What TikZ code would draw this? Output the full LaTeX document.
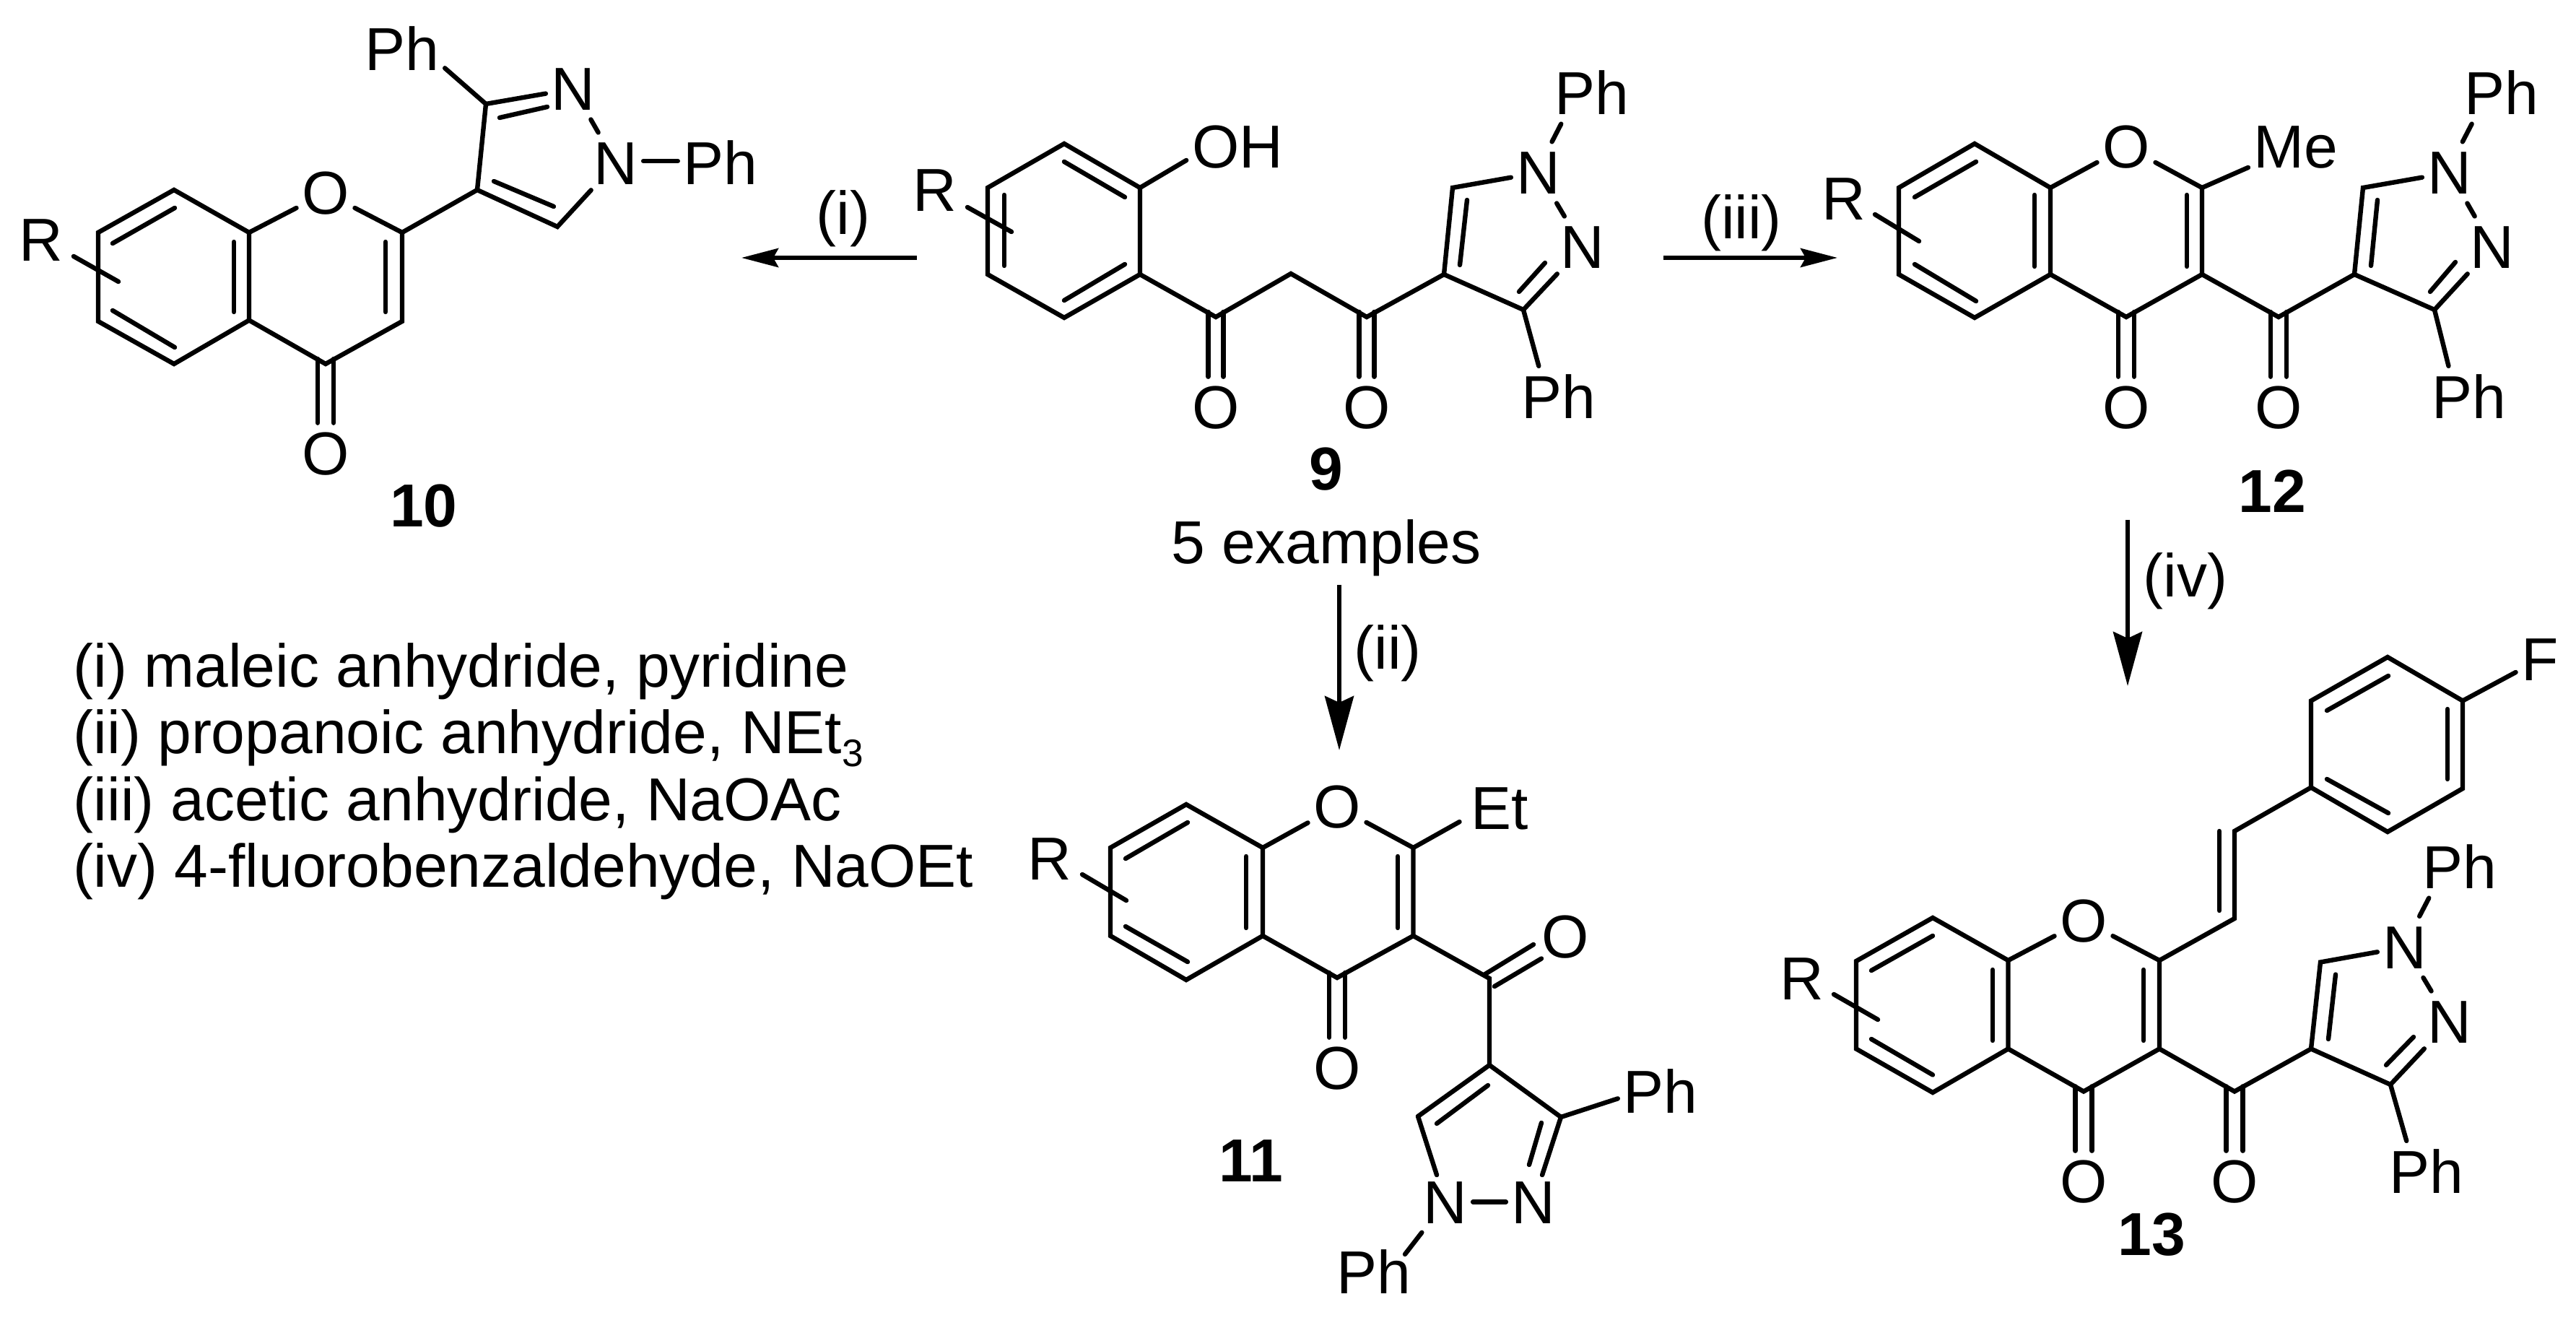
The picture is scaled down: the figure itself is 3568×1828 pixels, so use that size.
\documentclass[tikz,border=0pt]{standalone}
\usepackage{fontspec}
\setmainfont{Liberation Sans}
\usetikzlibrary{calc,arrows.meta}
\newcommand{\chemfs}{\fontsize{21}{24}\selectfont}
\newcommand{\carbonyl}[3]{%
  \draw[bond] ($(#1)+(-#3,-7)$) -- ($(#2.north)+(-#3,-5)$);
  \draw[bond] ($(#1)+(#3,-7)$) -- ($(#2.north)+(#3,-5)$);}
\tikzset{
  bond/.style={line width=1.6pt,line cap=round,line join=miter,draw=black},
  nn/.style={bond,shorten >=1.5pt,shorten <=1.5pt},
  toph/.style={bond,shorten >=1.5pt},
  atom/.style={font=\chemfs,inner sep=1.75pt,text height=14.75pt,text depth=0pt,anchor=center},
  cmpd/.style={font=\chemfs\bfseries,inner sep=0pt,anchor=base},
  txt/.style={font=\chemfs,inner sep=0pt,anchor=base},
  reagent/.style={font=\chemfs,inner sep=0pt,anchor=base west},
  harrow/.style={line width=1.5pt,-{Stealth[length=12.75pt,width=6.5pt,inset=1.75pt]}},
  varrow/.style={line width=1.5pt,-{Stealth[length=18.75pt,width=10pt,inset=2.25pt]}},
}
\begin{document}
\begin{tikzpicture}[x=0.25pt,y=-0.25pt]
\useasboundingbox (0,0) rectangle (3568,1828);
\fill[white] (0,0) rectangle (3568,1828);

% ---------- compound 10
\coordinate (a1) at (241,263);
\coordinate (a2) at (136,322);
\coordinate (a3) at (136,445);
\coordinate (a4) at (241,504);
\coordinate (a5) at (345,443.5);
\coordinate (a6) at (345,322);
\coordinate (a7) at (557,322);
\coordinate (a8) at (557,445);
\coordinate (a9) at (451,504);
\coordinate (a10) at (661,263);
\coordinate (a11) at (772,314);
\coordinate (a12) at (673,144);
\coordinate (aRa) at (102,355);
\coordinate (aRb) at (164,390);
\node[atom] (aR) at (57,332) {R};
\node[atom] (aO) at (451,267) {O};
\node[atom] (aOc) at (451,628) {O};
\node[atom] (aN2) at (794,123) {N};
\node[atom] (aN1) at (853,226) {N};
\node[atom] (aPh1) at (557,68) {Ph};
\node[atom] (aPh2) at (998,226) {Ph};
\node[cmpd] (aL) at (587,730) {10};
\carbonyl{a9}{aOc}{11}
\draw[bond] (a1)--(a2)--(a3)--(a4)--(a5)--(a6)--cycle;
\draw[bond] (a5)--(a9)--(a8)--(a7);
\draw[bond] (a6)--(aO);
\draw[bond] (aO)--(a7);
\draw[bond] (a7)--(a10)--(a11)--(aN1);
\draw[bond] (a10)--(a12)--(aN2);
\draw[bond] (a12)--(aPh1.-24);
\draw[nn] (aN2)--(aN1);
\draw[bond] ($(aN1.east)+(0,-3)$)--($(aPh2.west)+(0,-3)$);
\draw[bond] (aRa)--(aRb);
\draw[bond] (156,337)--(242,288);
\draw[bond] (156,430)--(242,481);
\draw[bond] (324,335)--(324,432);
\draw[bond] (534,335)--(534,432);
\draw[bond] (692,163)--(758,148);
\draw[bond] (684,251)--(767,286);

% ---------- compound 9
\coordinate (b1) at (1474,199);
\coordinate (b2) at (1579,260);
\coordinate (b3) at (1579,380);
\coordinate (b4) at (1474,440);
\coordinate (b5) at (1368,380);
\coordinate (b6) at (1368,260);
\coordinate (b7) at (1684,439);
\coordinate (b8) at (1788,379);
\coordinate (b9) at (1893,439);
\coordinate (b10) at (2000,380);
\coordinate (b11) at (2012,260);
\coordinate (b12) at (2110,429);
\coordinate (bRa) at (1340,287);
\coordinate (bRb) at (1401,321);
\node[atom] (bR) at (1295,263) {R};
\node[atom] (bOH) at (1714,203) {OH};
\node[atom] (bO1) at (1684,564) {O};
\node[atom] (bO2) at (1893,564) {O};
\node[atom] (bN1) at (2131,239) {N};
\node[atom] (bN2) at (2192,342) {N};
\node[atom] (bPh1) at (2205,129) {Ph};
\node[atom] (bPh2) at (2159,550) {Ph};
\node[cmpd] (bL) at (1837,679) {9};
\node[txt] (bE) at (1837,781) {5 examples};
\carbonyl{b7}{bO1}{10.5}
\carbonyl{b9}{bO2}{10.5}
\draw[bond] (b1)--(b2)--(b3)--(b4)--(b5)--(b6)--cycle;
\draw[bond] (b3)--(b7)--(b8)--(b9)--(b10)--(b11)--(bN1);
\draw[bond] (b10)--(b12)--(bN2);
\draw[bond] (b2)--(bOH.195);
\draw[nn] (bN1)--(bN2);
\draw[nn] (bN1.67)--(bPh1.223);
\draw[toph] (b12)--(bPh2.125);
\draw[bond] (bRa)--(bRb);
\draw[bond] (1474,224)--(1558,273);
\draw[bond] (1474,416)--(1558,366);
\draw[bond] (1391,270)--(1391,368);
\draw[bond] (2032,277)--(2022,367);
\draw[bond] (2140,364)--(2104,404);

% ---------- compound 12
\coordinate (c1) at (2735,199);
\coordinate (c2) at (2630,260);
\coordinate (c3) at (2630,380);
\coordinate (c4) at (2735,440);
\coordinate (c5) at (2840,380);
\coordinate (c6) at (2840,260);
\coordinate (c7) at (3050,260);
\coordinate (c8) at (3050,380);
\coordinate (c9) at (2945,439);
\coordinate (c10) at (3156,439);
\coordinate (c11) at (3261,380);
\coordinate (c12) at (3273,260);
\coordinate (c13) at (3372,429);
\coordinate (cRa) at (2597,297);
\coordinate (cRb) at (2658,334);
\node[atom] (cR) at (2554,275) {R};
\node[atom] (cO) at (2945,203) {O};
\node[atom] (cMe) at (3180,203) {Me};
\node[atom] (cO1) at (2945,564) {O};
\node[atom] (cO2) at (3156,564) {O};
\node[atom] (cN1) at (3393,239) {N};
\node[atom] (cN2) at (3452,342) {N};
\node[atom] (cPh1) at (3465,129) {Ph};
\node[atom] (cPh2) at (3420,550) {Ph};
\node[cmpd] (cL) at (3147,710) {12};
\carbonyl{c9}{cO1}{11}
\carbonyl{c10}{cO2}{11}
\draw[bond] (c1)--(c2)--(c3)--(c4)--(c5)--(c6)--cycle;
\draw[bond] (c5)--(c9)--(c8)--(c7);
\draw[bond] (c6)--(cO);
\draw[bond] (cO)--(c7);
\draw[bond] (c7)--(cMe);
\draw[bond] (c8)--(c10)--(c11)--(c12)--(cN1);
\draw[bond] (c11)--(c13)--(cN2);
\draw[nn] (cN1)--(cN2);
\draw[nn] (cN1.68)--(cPh1.224);
\draw[toph] (c13)--(cPh2.126);
\draw[bond] (cRa)--(cRb);
\draw[bond] (2652,273)--(2737,224);
\draw[bond] (2652,366)--(2737,417);
\draw[bond] (2818,270)--(2818,369);
\draw[bond] (3029,270)--(3029,369);
\draw[bond] (3293,277)--(3284,368);
\draw[bond] (3401,363)--(3366,404);

% ---------- compound 11
\coordinate (d1) at (1643,1114);
\coordinate (d2) at (1538,1174);
\coordinate (d3) at (1538,1296);
\coordinate (d4) at (1643,1357);
\coordinate (d5) at (1749,1296);
\coordinate (d6) at (1749,1174);
\coordinate (d7) at (1957.5,1174);
\coordinate (d8) at (1957.5,1296);
\coordinate (d9) at (1852,1354);
\coordinate (d10) at (2063,1355);
\coordinate (d11) at (2063,1475);
\coordinate (d12) at (1964,1546);
\coordinate (d13) at (2162,1547);
\coordinate (dRa) at (1499,1211);
\coordinate (dRb) at (1560,1247);
\node[atom] (dR) at (1454,1189) {R};
\node[atom] (dO) at (1852,1117) {O};
\node[atom,inner xsep=3.75pt] (dEt) at (2077,1119) {Et};
\node[atom] (dO1) at (1852,1479) {O};
\node[atom] (dO2) at (2168.5,1297) {O};
\node[atom] (dN1) at (2002,1664.5) {N};
\node[atom] (dN2) at (2124,1664.5) {N};
\node[atom] (dPh1) at (2300,1512) {Ph};
\node[atom] (dPh2) at (1902.5,1762) {Ph};
\node[cmpd] (dL) at (1733,1636.5) {11};
\carbonyl{d9}{dO1}{11}
\draw[bond] (d1)--(d2)--(d3)--(d4)--(d5)--(d6)--cycle;
\draw[bond] (d5)--(d9)--(d8)--(d7);
\draw[bond] (d6)--(dO);
\draw[bond] (dO)--(d7);
\draw[bond] (d7)--(dEt.199);
\draw[bond] (d8)--(d10)--(d11)--(d12);
\draw[bond] ($(d10)+(-6,-6)$)--($(dO2)+(-44.5,11)$);
\draw[bond] ($(d10)+(7,11)$)--($(dO2)+(-33.5,30.5)$);
\draw[bond] (d11)--(d13);
\draw[toph,shorten >=0pt] (d12)--(dN1);
\draw[toph,shorten >=0pt] (d13)--(dN2);
\draw[bond] (dN1)--(dN2);
\draw[bond] (d13)--(dPh1.189);
\draw[bond] ($(dN1.232)+(-3.5,5)$)--($(dPh2)+(43.5,-25)$);
\draw[bond] (dRa)--(dRb);
\draw[bond] (1559,1189)--(1645,1139);
\draw[bond] (1559,1283)--(1645,1332);
\draw[bond] (1726,1186)--(1726,1285);
\draw[bond] (1936,1186)--(1936,1285);
\draw[bond] (2135,1555)--(2118,1613);
\draw[bond] (2061,1503)--(1990,1556);

% ---------- compound 13
\coordinate (e1) at (2677,1271);
\coordinate (e2) at (2571,1331);
\coordinate (e3) at (2571,1452.5);
\coordinate (e4) at (2677,1513);
\coordinate (e5) at (2781.5,1452.5);
\coordinate (e6) at (2781.5,1330);
\coordinate (e7) at (2991,1330);
\coordinate (e8) at (2991,1452.5);
\coordinate (e9) at (2886,1511.5);
\coordinate (e10) at (3095,1511.5);
\coordinate (e11) at (3201,1452.5);
\coordinate (e12) at (3214,1332.5);
\coordinate (e13) at (3311,1502);
\coordinate (e14) at (3095,1272);
\coordinate (e15) at (3095,1151);
\coordinate (e16) at (3201,1090.5);
\coordinate (e17) at (3201,970.5);
\coordinate (e18) at (3307,910);
\coordinate (e19) at (3411,970.5);
\coordinate (e20) at (3411,1092);
\coordinate (e21) at (3307,1152);
\coordinate (eRa) at (2540,1377);
\coordinate (eRb) at (2601,1412);
\node[atom] (eR) at (2496,1355) {R};
\node[atom] (eO) at (2886,1275) {O};
\node[atom] (eO1) at (2886,1636) {O};
\node[atom] (eO2) at (3095,1636) {O};
\node[atom] (eF) at (3518,913) {F};
\node[atom] (eN1) at (3331,1311.5) {N};
\node[atom] (eN2) at (3393,1415) {N};
\node[atom] (ePh1) at (3407,1201) {Ph};
\node[atom] (ePh2) at (3361,1623) {Ph};
\node[cmpd] (eL) at (2980,1738) {13};
\carbonyl{e9}{eO1}{11.5}
\carbonyl{e10}{eO2}{11.5}
\draw[bond] (e1)--(e2)--(e3)--(e4)--(e5)--(e6)--cycle;
\draw[bond] (e5)--(e9)--(e8)--(e7);
\draw[bond] (e6)--(eO);
\draw[bond] (eO)--(e7);
\draw[bond] (e7)--(e14)--(e15)--(e16);
\draw[bond] (e16)--(e17)--(e18)--(e19)--(e20)--(e21)--cycle;
\draw[bond] (e19)--(eF);
\draw[bond] (e8)--(e10)--(e11)--(e12)--(eN1);
\draw[bond] (e11)--(e13)--(eN2);
\draw[nn] (eN1)--(eN2);
\draw[nn] (eN1.65)--(ePh1.223);
\draw[toph] (e13)--(ePh2.125);
\draw[bond] (eRa)--(eRb);
\draw[bond] (2592,1344)--(2677,1296);
\draw[bond] (2592,1439)--(2677,1488.5);
\draw[bond] (2760,1343)--(2760,1441);
\draw[bond] (2969,1343)--(2969,1441);
\draw[bond] (3074,1151)--(3074,1261);
\draw[bond] (3223,984)--(3308,936);
\draw[bond] (3390,982)--(3390,1079);
\draw[bond] (3223,1079)--(3308,1126);
\draw[bond] (3235,1349.5)--(3225,1439);
\draw[bond] (3343,1436)--(3305,1475);

% ---------- reaction arrows
\coordinate (ar1s) at (1270,357);
\coordinate (ar1e) at (1027,357);
\coordinate (ar2s) at (1855,810);
\coordinate (ar2e) at (1855,1039);
\coordinate (ar3s) at (2304,357);
\coordinate (ar3e) at (2545,357);
\coordinate (ar4s) at (2947,720);
\coordinate (ar4e) at (2947,950);
\draw[harrow] (ar1s)--(ar1e);
\draw[varrow] (ar2s)--(ar2e);
\draw[harrow] (ar3s)--(ar3e);
\draw[varrow] (ar4s)--(ar4e);
\node[txt] (l1) at (1168,325) {(i)};
\node[txt] (l2) at (1922,927) {(ii)};
\node[txt] (l3) at (2412,331) {(iii)};
\node[txt] (l4) at (3027,827) {(iv)};

% ---------- conditions
\node[reagent] (r1) at (101,952) {(i) maleic anhydride, pyridine};
\node[reagent] (r2) at (101,1044) {(ii) propanoic anhydride, NEt\raisebox{-4.5pt}{\fontsize{13.3}{14}\selectfont 3}};
\node[reagent] (r3) at (101,1136) {(iii) acetic anhydride, NaOAc};
\node[reagent] (r4) at (101,1228) {(iv) 4-fluorobenzaldehyde, NaOEt};
\end{tikzpicture}
\end{document}
